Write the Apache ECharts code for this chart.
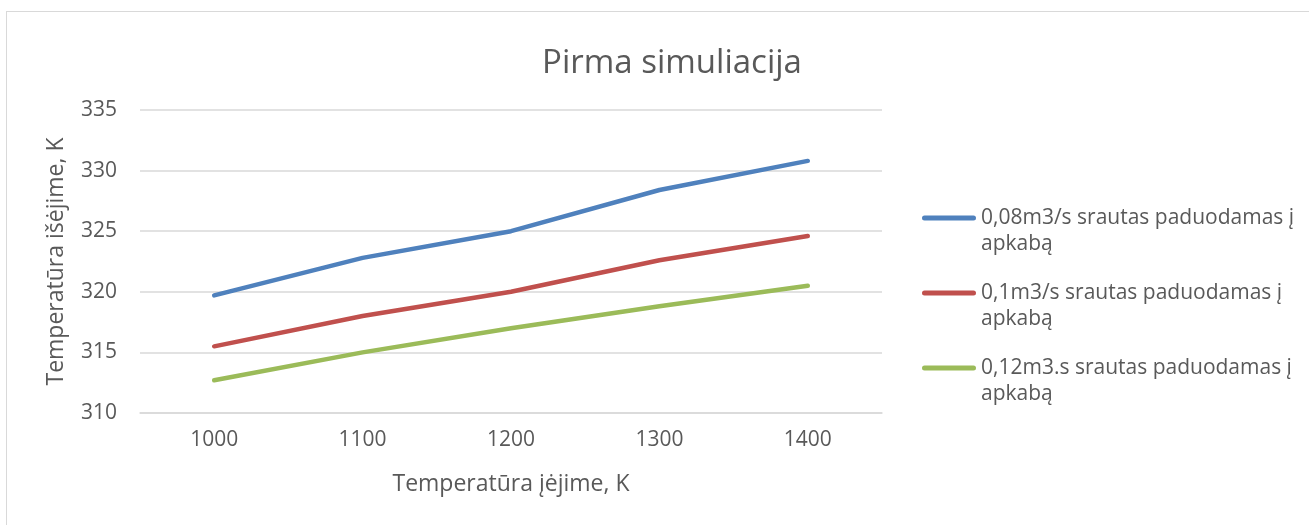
<!DOCTYPE html>
<html>
<head>
<meta charset="utf-8">
<script src="https://cdn.jsdelivr.net/npm/echarts@6/dist/echarts.min.js"></script>
<style>
  html, body { margin: 0; padding: 0; background: #ffffff; }
  #frame { position: absolute; left: 6px; top: 11px; width: 1320px; height: 540px;
           border-left: 1px solid #d9d9d9; border-top: 1px solid #d9d9d9; }
  #chart { position: absolute; left: 0; top: 0; width: 1309px; height: 525px; }
</style>
</head>
<body>
<div id="frame"></div>
<div id="chart"></div>
<script>
// Inlet temperature (K) on the x axis
const categories = ['1000', '1100', '1200', '1300', '1400'];

// Outlet temperature (K) for each air flow rate
const flow008 = [319.7, 322.8, 325.0, 328.4, 330.8];
const flow010 = [315.5, 318.0, 320.0, 322.6, 324.6];
const flow012 = [312.7, 315.0, 317.0, 318.8, 320.5];

const seriesNames = [
  '0,08m3/s srautas paduodamas į\napkabą',
  '0,1m3/s srautas paduodamas į\napkabą',
  '0,12m3.s srautas paduodamas į\napkabą'
];
const seriesColors = ['#4f81bd', '#c0504d', '#9bbb59'];

const FONT = '"Open Sans", "Liberation Sans", sans-serif';
const TEXT = '#595959';

// Legend key: a short bar level with the first text line of a two-line label.
// The two hairline corners only fix the icon's box to the full label height.
const LEGEND_KEY = 'path://M0,0H0.01V0.01H0Z M0,51.99H0.01V52H0Z ' +
  'M2.5,10.5H51.5A2.5,2.5 0 0 1 51.5,15.5H2.5A2.5,2.5 0 0 1 2.5,10.5Z';

function lineSeries(name, data, color) {
  return {
    name: name,
    type: 'line',
    data: data,
    symbol: 'none',
    smooth: false,
    lineStyle: { color: color, width: 4.5, cap: 'round', join: 'round' },
    itemStyle: { color: color }
  };
}

const chart = echarts.init(document.getElementById('chart'), null, { renderer: 'canvas' });
chart.setOption({
  animation: false,
  backgroundColor: 'transparent',
  title: {
    text: 'Pirma simuliacija',
    left: 667, top: 42, textAlign: 'center',
    textStyle: { fontFamily: FONT, fontSize: 33, fontWeight: 'normal', color: TEXT }
  },
  grid: { left: 140, top: 110, width: 742, height: 303, containLabel: false },
  legend: {
    orient: 'vertical',
    left: 922, top: 205,
    padding: 0,
    itemGap: 23,
    itemWidth: 54, itemHeight: 52,
    icon: LEGEND_KEY,
    itemStyle: { borderWidth: 0 },
    lineStyle: { width: 0 },
    textStyle: { fontFamily: FONT, fontSize: 21, color: TEXT, lineHeight: 26 },
    data: seriesNames
  },
  xAxis: {
    type: 'category',
    data: categories,
    boundaryGap: true,
    name: 'Temperatūra įėjime, K',
    nameLocation: 'middle',
    nameGap: 60,
    nameTextStyle: { fontFamily: FONT, fontSize: 23, color: TEXT },
    axisLine: { show: true, lineStyle: { color: '#d9d9d9', width: 1.5 } },
    axisTick: { show: false },
    axisLabel: { fontFamily: FONT, fontSize: 21, color: TEXT, margin: 17 }
  },
  yAxis: {
    type: 'value',
    min: 310, max: 335, interval: 5,
    name: 'Temperatūra išėjime, K',
    nameLocation: 'middle',
    nameGap: 72,
    nameRotate: 90,
    nameTextStyle: { fontFamily: FONT, fontSize: 23, color: TEXT },
    axisLine: { show: false },
    axisTick: { show: false },
    splitLine: { lineStyle: { color: '#d9d9d9', width: 1.5 } },
    axisLabel: { fontFamily: FONT, fontSize: 21, color: TEXT, margin: 23 }
  },
  series: [
    lineSeries(seriesNames[0], flow008, seriesColors[0]),
    lineSeries(seriesNames[1], flow010, seriesColors[1]),
    lineSeries(seriesNames[2], flow012, seriesColors[2])
  ]
});
</script>
</body>
</html>
